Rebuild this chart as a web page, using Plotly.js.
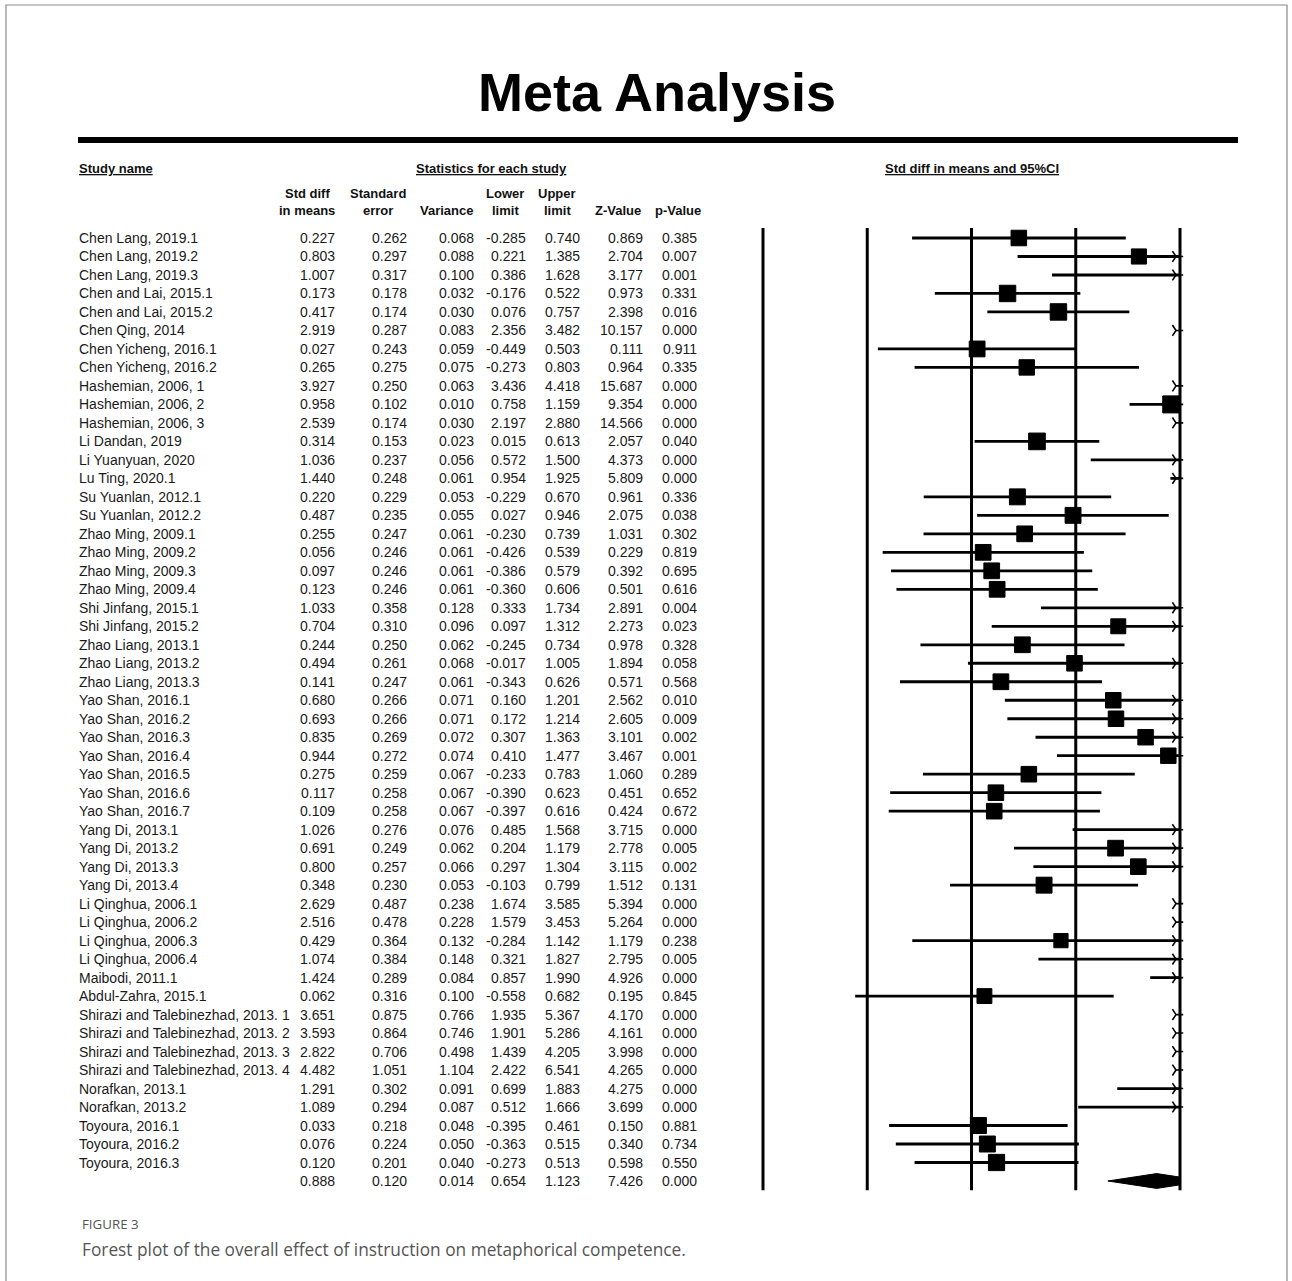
<!DOCTYPE html>
<html><head><meta charset="utf-8">
<script src="https://cdn.plot.ly/plotly-3.0.1.min.js"></script>
<style>html,body{margin:0;padding:0;background:#fff}</style>
</head><body><div id="chart" style="width:1292px;height:1281px"></div>
<script>
// ---------------- data ----------------
const studies = [
"Chen Lang, 2019.1","Chen Lang, 2019.2","Chen Lang, 2019.3","Chen and Lai, 2015.1","Chen and Lai, 2015.2",
"Chen Qing, 2014","Chen Yicheng, 2016.1","Chen Yicheng, 2016.2","Hashemian, 2006, 1","Hashemian, 2006, 2",
"Hashemian, 2006, 3","Li Dandan, 2019","Li Yuanyuan, 2020","Lu Ting, 2020.1","Su Yuanlan, 2012.1",
"Su Yuanlan, 2012.2","Zhao Ming, 2009.1","Zhao Ming, 2009.2","Zhao Ming, 2009.3","Zhao Ming, 2009.4",
"Shi Jinfang, 2015.1","Shi Jinfang, 2015.2","Zhao Liang, 2013.1","Zhao Liang, 2013.2","Zhao Liang, 2013.3",
"Yao Shan, 2016.1","Yao Shan, 2016.2","Yao Shan, 2016.3","Yao Shan, 2016.4","Yao Shan, 2016.5",
"Yao Shan, 2016.6","Yao Shan, 2016.7","Yang Di, 2013.1","Yang Di, 2013.2","Yang Di, 2013.3",
"Yang Di, 2013.4","Li Qinghua, 2006.1","Li Qinghua, 2006.2","Li Qinghua, 2006.3","Li Qinghua, 2006.4",
"Maibodi, 2011.1","Abdul-Zahra, 2015.1","Shirazi and Talebinezhad, 2013. 1","Shirazi and Talebinezhad, 2013. 2","Shirazi and Talebinezhad, 2013. 3",
"Shirazi and Talebinezhad, 2013. 4","Norafkan, 2013.1","Norafkan, 2013.2","Toyoura, 2016.1","Toyoura, 2016.2",
"Toyoura, 2016.3"];
const smd = [0.227,0.803,1.007,0.173,0.417,2.919,0.027,0.265,3.927,0.958,2.539,0.314,1.036,1.440,0.220,0.487,0.255,0.056,0.097,0.123,1.033,0.704,0.244,0.494,0.141,0.680,0.693,0.835,0.944,0.275,0.117,0.109,1.026,0.691,0.800,0.348,2.629,2.516,0.429,1.074,1.424,0.062,3.651,3.593,2.822,4.482,1.291,1.089,0.033,0.076,0.120];
const stdErr = [0.262,0.297,0.317,0.178,0.174,0.287,0.243,0.275,0.250,0.102,0.174,0.153,0.237,0.248,0.229,0.235,0.247,0.246,0.246,0.246,0.358,0.310,0.250,0.261,0.247,0.266,0.266,0.269,0.272,0.259,0.258,0.258,0.276,0.249,0.257,0.230,0.487,0.478,0.364,0.384,0.289,0.316,0.875,0.864,0.706,1.051,0.302,0.294,0.218,0.224,0.201];
const variance = [0.068,0.088,0.100,0.032,0.030,0.083,0.059,0.075,0.063,0.010,0.030,0.023,0.056,0.061,0.053,0.055,0.061,0.061,0.061,0.061,0.128,0.096,0.062,0.068,0.061,0.071,0.071,0.072,0.074,0.067,0.067,0.067,0.076,0.062,0.066,0.053,0.238,0.228,0.132,0.148,0.084,0.100,0.766,0.746,0.498,1.104,0.091,0.087,0.048,0.050,0.040];
const lowerLimit = [-0.285,0.221,0.386,-0.176,0.076,2.356,-0.449,-0.273,3.436,0.758,2.197,0.015,0.572,0.954,-0.229,0.027,-0.230,-0.426,-0.386,-0.360,0.333,0.097,-0.245,-0.017,-0.343,0.160,0.172,0.307,0.410,-0.233,-0.390,-0.397,0.485,0.204,0.297,-0.103,1.674,1.579,-0.284,0.321,0.857,-0.558,1.935,1.901,1.439,2.422,0.699,0.512,-0.395,-0.363,-0.273];
const upperLimit = [0.740,1.385,1.628,0.522,0.757,3.482,0.503,0.803,4.418,1.159,2.880,0.613,1.500,1.925,0.670,0.946,0.739,0.539,0.579,0.606,1.734,1.312,0.734,1.005,0.626,1.201,1.214,1.363,1.477,0.783,0.623,0.616,1.568,1.179,1.304,0.799,3.585,3.453,1.142,1.827,1.990,0.682,5.367,5.286,4.205,6.541,1.883,1.666,0.461,0.515,0.513];
const zValue = [0.869,2.704,3.177,0.973,2.398,10.157,0.111,0.964,15.687,9.354,14.566,2.057,4.373,5.809,0.961,2.075,1.031,0.229,0.392,0.501,2.891,2.273,0.978,1.894,0.571,2.562,2.605,3.101,3.467,1.060,0.451,0.424,3.715,2.778,3.115,1.512,5.394,5.264,1.179,2.795,4.926,0.195,4.170,4.161,3.998,4.265,4.275,3.699,0.150,0.340,0.598];
const pValue = [0.385,0.007,0.001,0.331,0.016,0.000,0.911,0.335,0.000,0.000,0.000,0.040,0.000,0.000,0.336,0.038,0.302,0.819,0.695,0.616,0.004,0.023,0.328,0.058,0.568,0.010,0.009,0.002,0.001,0.289,0.652,0.672,0.000,0.005,0.002,0.131,0.000,0.000,0.238,0.005,0.000,0.845,0.000,0.000,0.000,0.000,0.000,0.000,0.881,0.734,0.550];
// overall (summary) row: smd, se, variance, lower, upper, z, p
const overall = [0.888,0.120,0.014,0.654,1.123,7.426,0.000];
const colHeads1 = ["Std diff","Standard","","Lower","Upper","",""];
const colHeads2 = ["in means","error","Variance","limit","limit","Z-Value","p-Value"];
const axisTicks = [-1,-0.5,0,0.5,1];

// ---------------- layout helpers ----------------
const W=1292, H=1281;
const ROW0=238, ROWH=18.49;
const XM1=763, XP1=1180, UNIT=(XP1-XM1)/2;
const xRange=[-1-XM1/UNIT, 1+(W-XP1)/UNIT];
const yRange=[(H-ROW0)/ROWH, -ROW0/ROWH];
const px=p=>p/W, py=p=>1-p/H;
const FONT="Liberation Sans, Arial, sans-serif";
const nS=studies.length;
const colRight=[337,409,476,528,582,645,699];
const headCenter=[307,378,447,505,557,618,678];
const cols=[smd,stdErr,variance,lowerLimit,upperLimit,zValue,pValue];

const ann=[];
const tf={family:FONT,size:14,color:"#1a1a1a"};
for(let i=0;i<nS;i++){
  ann.push({xref:"paper",yref:"y",x:px(77),y:i,xanchor:"left",yanchor:"middle",text:studies[i],showarrow:false,font:tf});
  cols.forEach((c,k)=>ann.push({xref:"paper",yref:"y",x:px(colRight[k]),y:i,xanchor:"right",yanchor:"middle",text:c[i].toFixed(3),showarrow:false,font:tf}));
}
overall.forEach((v,k)=>ann.push({xref:"paper",yref:"y",x:px(colRight[k]),y:nS,xanchor:"right",yanchor:"middle",text:v.toFixed(3),showarrow:false,font:tf}));
const hf={family:FONT,size:13,color:"#111"};
colHeads1.forEach((t,k)=>{ if(t) ann.push({xref:"paper",yref:"paper",x:px(headCenter[k]),y:py(194),xanchor:"center",yanchor:"middle",text:"<b>"+t+"</b>",showarrow:false,font:hf});});
colHeads2.forEach((t,k)=>ann.push({xref:"paper",yref:"paper",x:px(headCenter[k]),y:py(211),xanchor:"center",yanchor:"middle",text:"<b>"+t+"</b>",showarrow:false,font:hf}));
ann.push({xref:"paper",yref:"paper",x:px(77),y:py(168),xanchor:"left",yanchor:"middle",text:"<b><u>Study name</u></b>",showarrow:false,font:hf});
ann.push({xref:"paper",yref:"paper",x:px(491),y:py(168),xanchor:"center",yanchor:"middle",text:"<b><u>Statistics for each study</u></b>",showarrow:false,font:hf});
ann.push({xref:"x",yref:"paper",x:0,y:py(168),xanchor:"center",yanchor:"middle",text:"<b><u>Std diff in means and 95%CI</u></b>",showarrow:false,font:hf});
ann.push({xref:"paper",yref:"paper",x:px(80),y:py(1224),xanchor:"left",yanchor:"middle",text:"FIGURE 3",showarrow:false,font:{family:"Open Sans, Noto Sans, sans-serif",size:13.3,color:"#555"}});
ann.push({xref:"paper",yref:"paper",x:px(80),y:py(1249),xanchor:"left",yanchor:"middle",text:"Forest plot of the overall effect of instruction on metaphorical competence.",showarrow:false,font:{family:"Open Sans, Noto Sans, sans-serif",size:17.3,color:"#555"}});

// ---------------- forest marks ----------------
const tau2=0.62; // between-study variance estimate used for box weights
const w=variance.map(v=>1/(v+tau2));
const wmax=Math.max(...w);
const lx=[],ly=[],sx=[],sy=[],ss=[],ax=[],ay=[];
for(let i=0;i<nS;i++){
  const x0=Math.max(lowerLimit[i],-1), x1=Math.min(upperLimit[i],1);
  if(x0<x1){lx.push(x0,x1,null);ly.push(i,i,null);}
  if(smd[i]>=-1&&smd[i]<=1){sx.push(smd[i]);sy.push(i);ss.push(17*w[i]/wmax);}
  if(upperLimit[i]>1){ax.push(1-4/UNIT);ay.push(i);}
}
const [oM,,,oL,oU]=overall;
const dh=0.4, r=nS;
const clipF=(oU-1)/(oU-oM);
const dx=[oL,oM,Math.min(oU,1),Math.min(oU,1),oM,oL];
const dy=[r,r-dh,r-dh*(oU>1?clipF:0),r+dh*(oU>1?clipF:0),r+dh,r];

const traces=[
 {x:lx,y:ly,mode:"lines",line:{color:"#000",width:2.8},hoverinfo:"skip",showlegend:false},
 {x:sx,y:sy,mode:"markers",opacity:1,marker:{symbol:"square",size:ss,color:"#000",opacity:1,line:{width:1,color:"#000"}},hoverinfo:"skip",showlegend:false},
 {x:ax,y:ay,mode:"markers",opacity:1,marker:{symbol:"y-right",size:9,color:"#000",opacity:1,line:{color:"#000",width:1.6}},hoverinfo:"skip",showlegend:false},
 {x:dx,y:dy,mode:"lines",fill:"toself",fillcolor:"#000",line:{color:"#000",width:1},hoverinfo:"skip",showlegend:false}
];

const shapes=[];
axisTicks.forEach(t=>shapes.push({type:"line",xref:"x",yref:"y",x0:t,x1:t,y0:-0.54,y1:nS+0.5,line:{color:"#000",width:3}}));
shapes.push({type:"line",xref:"paper",yref:"paper",x0:px(78),x1:px(1238),y0:py(140),y1:py(140),line:{color:"#000",width:6}});
shapes.push({type:"rect",xref:"paper",yref:"paper",x0:px(6),x1:px(1287),y0:py(5),y1:py(1290),line:{color:"#8a8a8a",width:1.2},fillcolor:"rgba(0,0,0,0)"});

const layout={
 width:W,height:H,margin:{l:0,r:0,t:0,b:0},paper_bgcolor:"#fff",plot_bgcolor:"#fff",
 title:{text:"<b>Meta Analysis</b>",font:{family:FONT,size:54,color:"#000"},x:px(657),y:py(92),xanchor:"center",yanchor:"middle",xref:"paper",yref:"container"},
 xaxis:{range:xRange,domain:[0,1],visible:false,fixedrange:true},
 yaxis:{range:yRange,domain:[0,1],visible:false,fixedrange:true},
 annotations:ann,shapes:shapes,showlegend:false
};
Plotly.newPlot("chart",traces,layout,{staticPlot:true,displayModeBar:false});
</script></body></html>
